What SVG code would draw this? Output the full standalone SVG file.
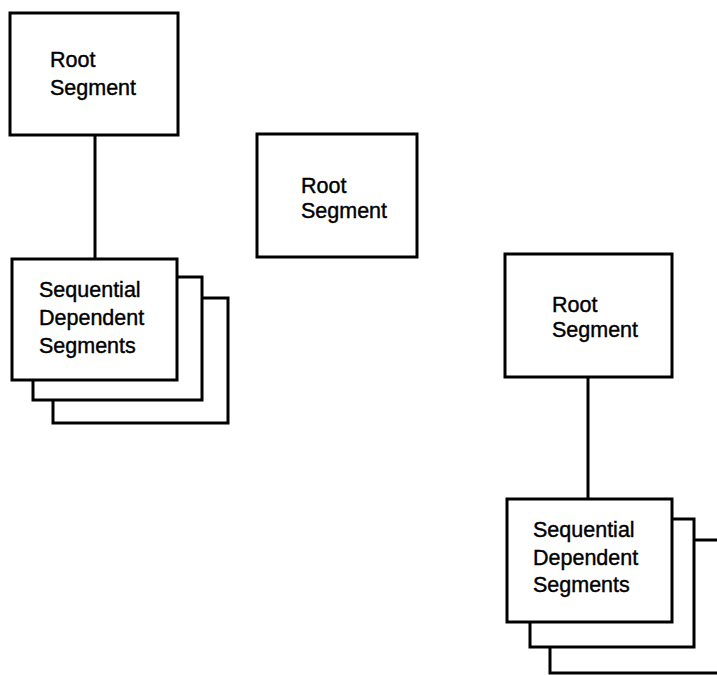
<svg xmlns="http://www.w3.org/2000/svg" width="717" height="675" viewBox="0 0 717 675">
<style>
.box{fill:#fff;stroke:#000;stroke-width:3;stroke-linejoin:miter}
.conn{stroke:#000;stroke-width:3;fill:none}
text{font-family:"Liberation Sans",Arial,sans-serif;font-size:21.5px;fill:#000;stroke:#000;stroke-width:0.4}
</style>
<rect width="717" height="675" fill="#fff"/>
<g id="connectors">
<line class="conn" x1="95" y1="135" x2="95" y2="259"/>
<line class="conn" x1="588" y1="377" x2="588" y2="499"/>
</g>
<g id="root1">
<rect class="box" x="10" y="13" width="168" height="122"/>
<text x="50" y="67">Root</text>
<text x="50" y="95">Segment</text>
</g>
<g id="seq1">
<rect class="box" x="53" y="298" width="175" height="125"/>
<rect class="box" x="33" y="277" width="169" height="123"/>
<rect class="box" x="12" y="259" width="165" height="121"/>
<text x="39" y="297">Sequential</text>
<text x="39" y="325">Dependent</text>
<text x="39" y="353">Segments</text>
</g>
<g id="root2">
<rect class="box" x="257" y="134" width="160" height="123"/>
<text x="301" y="193">Root</text>
<text x="301" y="218">Segment</text>
</g>
<g id="root3">
<rect class="box" x="505" y="254" width="167" height="123"/>
<text x="552" y="312">Root</text>
<text x="552" y="337">Segment</text>
</g>
<g id="seq3">
<rect class="box" x="550" y="540" width="200" height="133"/>
<rect class="box" x="530" y="519" width="164" height="128"/>
<rect class="box" x="507" y="499" width="165" height="123"/>
<text x="533" y="537">Sequential</text>
<text x="533" y="565">Dependent</text>
<text x="533" y="592">Segments</text>
</g>
</svg>
